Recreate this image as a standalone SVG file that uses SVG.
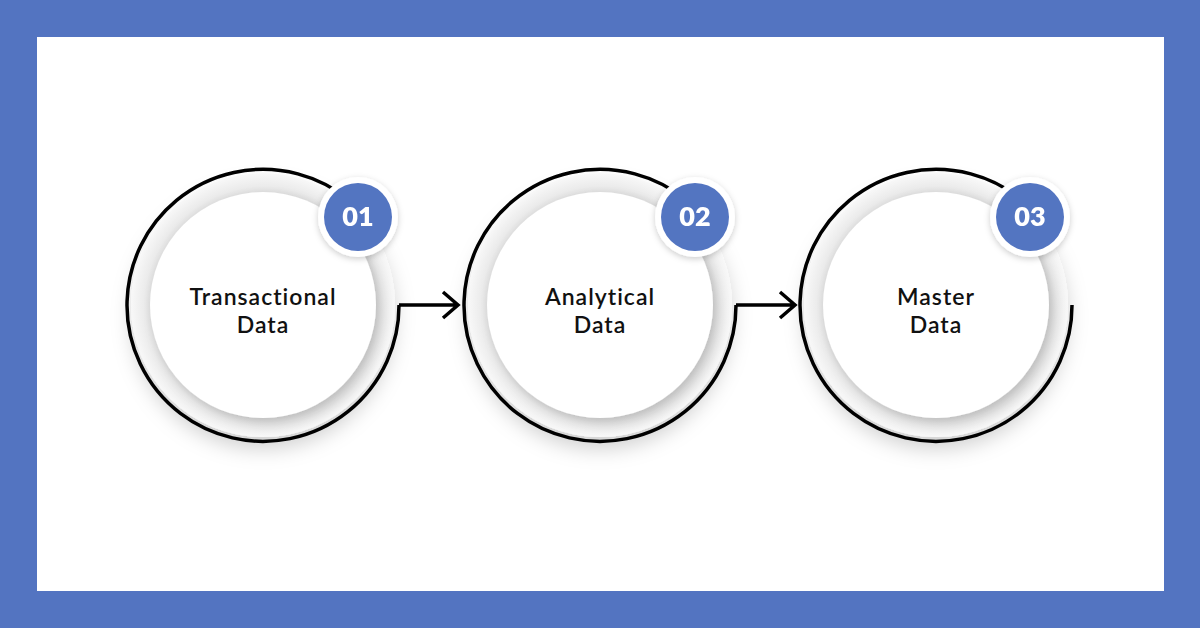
<svg xmlns="http://www.w3.org/2000/svg" width="1200" height="628" viewBox="0 0 1200 628">
<defs>
<radialGradient id="ring" cx="0.5" cy="0.5" r="0.5">
<stop offset="0.8" stop-color="#d2d2d2"/>
<stop offset="0.9" stop-color="#ebebeb"/>
<stop offset="1" stop-color="#f8f8f8"/>
</radialGradient>
<filter id="sh" x="-30%" y="-30%" width="160%" height="170%">
<feDropShadow dx="0" dy="12" stdDeviation="10" flood-color="#000" flood-opacity="0.18"/>
</filter>
<filter id="ish" x="-30%" y="-30%" width="160%" height="160%">
<feDropShadow dx="5" dy="6" stdDeviation="6" flood-color="#000" flood-opacity="0.15"/>
</filter>
<filter id="bs" x="-40%" y="-40%" width="180%" height="180%">
<feDropShadow dx="0" dy="2" stdDeviation="3" flood-color="#000" flood-opacity="0.2"/>
</filter>
<style>
.t{font-family:Lato,"Open Sans",sans-serif;font-size:23px;font-weight:600;fill:#111;text-anchor:middle;letter-spacing:1px}
.n{font-family:Lato,"Open Sans",sans-serif;font-size:27px;font-weight:800;fill:#fff;text-anchor:middle}
.line{fill:none;stroke:#000;stroke-width:3.5}
</style>
</defs>
<rect width="1200" height="628" fill="#5374c1"/>
<rect x="37" y="37" width="1127" height="554" fill="#fff"/>
<g id="node1">
<circle cx="263" cy="305" r="132" fill="url(#ring)" filter="url(#sh)"/>
<circle cx="263" cy="305" r="113" fill="#fff" filter="url(#ish)"/>
<text class="t" x="263" y="305">Transactional</text>
<text class="t" x="263" y="333">Data</text>
</g>
<g id="node2">
<circle cx="600" cy="305" r="132" fill="url(#ring)" filter="url(#sh)"/>
<circle cx="600" cy="305" r="113" fill="#fff" filter="url(#ish)"/>
<text class="t" x="600" y="305">Analytical</text>
<text class="t" x="600" y="333">Data</text>
</g>
<g id="node3">
<circle cx="936" cy="305" r="132" fill="url(#ring)" filter="url(#sh)"/>
<circle cx="936" cy="305" r="113" fill="#fff" filter="url(#ish)"/>
<text class="t" x="936" y="305">Master</text>
<text class="t" x="936" y="333">Data</text>
</g>
<g id="connectors">
<path class="line" d="M399 305 A136 136 0 1 1 349 200"/>
<path class="line" d="M399 305 H458 M443 292 L458 305 L443 318"/>
<path class="line" d="M736 305 A136 136 0 1 1 686 200"/>
<path class="line" d="M736 305 H795 M780 292 L795 305 L780 318"/>
<path class="line" d="M1072 305 A136 136 0 1 1 1022 200"/>
</g>
<g id="badge1" filter="url(#bs)">
<circle cx="358" cy="217" r="40" fill="#fff"/>
<circle cx="358" cy="217" r="34" fill="#5374c1"/>
<text class="n" x="358" y="226">01</text>
</g>
<g id="badge2" filter="url(#bs)">
<circle cx="695" cy="217" r="40" fill="#fff"/>
<circle cx="695" cy="217" r="34" fill="#5374c1"/>
<text class="n" x="695" y="226">02</text>
</g>
<g id="badge3" filter="url(#bs)">
<circle cx="1030" cy="217" r="40" fill="#fff"/>
<circle cx="1030" cy="217" r="34" fill="#5374c1"/>
<text class="n" x="1030" y="226">03</text>
</g>
</svg>
